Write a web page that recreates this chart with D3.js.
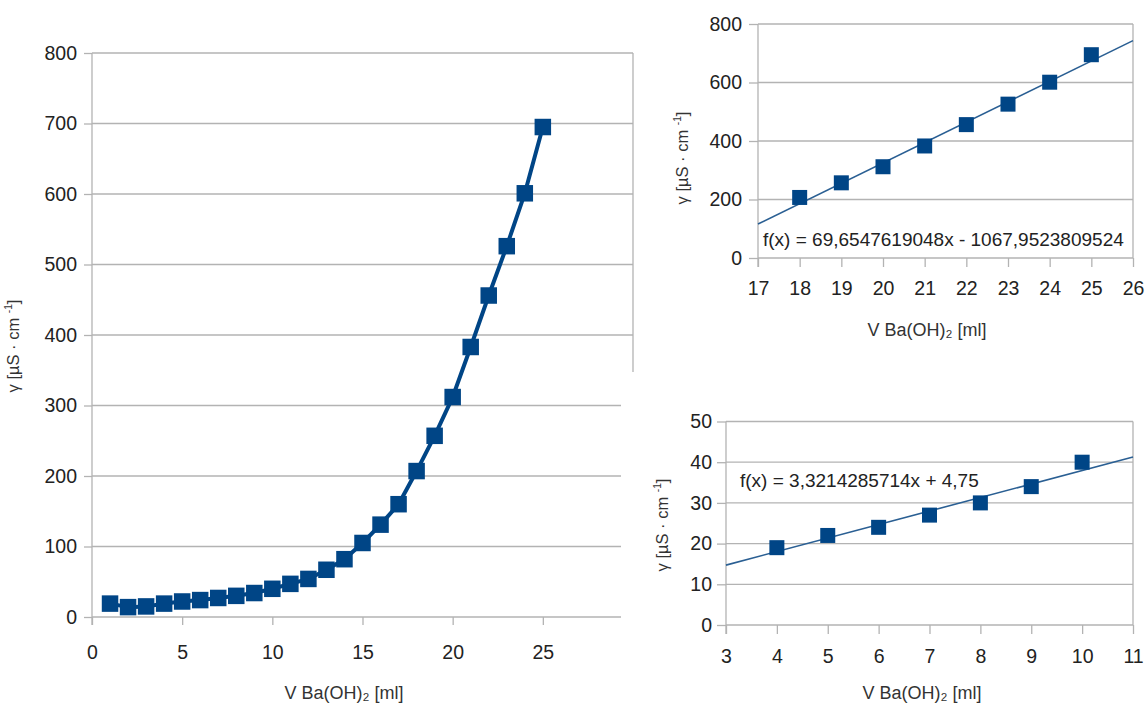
<!DOCTYPE html>
<html>
<head>
<meta charset="utf-8">
<script src="https://cdn.jsdelivr.net/npm/d3@7"></script>
<style>
  body { margin: 0; background: #fff; }
  svg { display: block; }
</style>
</head>
<body>
<svg id="chart" width="1146" height="704"></svg>
<script>
// Conductometric titration with Ba(OH)2: conductivity vs. added volume
const volume = [1, 2, 3, 4, 5, 6, 7, 8, 9, 10, 11, 12, 13, 14, 15, 16, 17, 18, 19, 20, 21, 22, 23, 24, 25];
const conductivity = [19, 14, 15, 19, 22, 24, 27, 30, 34, 40, 47, 54, 67, 82, 105, 131, 160, 207, 257, 312, 383, 456, 526, 601, 695];

// Steep branch used for the upper linear fit
const volumeHigh = [18, 19, 20, 21, 22, 23, 24, 25];
const conductivityHigh = [207, 257, 312, 383, 456, 526, 601, 695];

// Flat branch used for the lower linear fit
const volumeLow = [4, 5, 6, 7, 8, 9, 10];
const conductivityLow = [19, 22, 24, 27, 30, 34, 40];

// Tick values of each panel
const mainXTicks = [0, 5, 10, 15, 20, 25, 30];
const mainYTicks = [0, 100, 200, 300, 400, 500, 600, 700, 800];
const highXTicks = [17, 18, 19, 20, 21, 22, 23, 24, 25, 26];
const highYTicks = [0, 200, 400, 600, 800];
const lowXTicks = [3, 4, 5, 6, 7, 8, 9, 10, 11];
const lowYTicks = [0, 10, 20, 30, 40, 50];

const xTitle = "V Ba(OH)₂ [ml]";

const FONT = '"Liberation Sans", Arial, sans-serif';
const GRID = "#b3b3b3";
const BLUE = "#004586";
const TEXT = "#222";

const svg = d3.select("#chart");

// least-squares line through the points
function linearFit(xs, ys) {
  const mx = d3.mean(xs), my = d3.mean(ys);
  const sxy = d3.sum(xs, (v, i) => (v - mx) * (ys[i] - my));
  const sxx = d3.sum(xs, v => (v - mx) * (v - mx));
  const slope = sxy / sxx;
  return { slope, intercept: my - slope * mx };
}

// number with comma as decimal separator, up to 10 decimals
function fmt(v) {
  let s = Math.abs(v).toFixed(10).replace(/0+$/, "").replace(/\.$/, "");
  return s.replace(".", ",");
}

function yTitle(g, cx, cy, size) {
  const t = g.append("text")
    .attr("transform", `translate(${cx},${cy}) rotate(-90)`)
    .attr("text-anchor", "middle")
    .attr("dominant-baseline", "middle")
    .attr("font-family", FONT)
    .attr("font-size", size)
    .attr("fill", "#333");
  t.append("tspan").text("γ [µS  ·  cm  ");
  t.append("tspan").attr("font-size", size * 0.62).attr("dy", -size * 0.38).text("-1");
  t.append("tspan").attr("dy", size * 0.38).text("]");
}

function panel(o) {
  const g = svg.append("g");
  if (o.background) {
    g.append("rect")
      .attr("x", o.background[0]).attr("y", o.background[1])
      .attr("width", o.background[2]).attr("height", o.background[3])
      .attr("fill", "#fff");
  }
  const x = d3.scaleLinear().domain(o.xDomain).range([o.left, o.right]);
  const y = d3.scaleLinear().domain(o.yDomain).range([o.bottom, o.top]);

  // horizontal gridlines
  g.append("g").selectAll("line").data(o.yTicks).join("line")
    .attr("x1", o.left).attr("x2", o.right)
    .attr("y1", d => y(d)).attr("y2", d => y(d))
    .attr("stroke", GRID).attr("stroke-width", 1.3);
  // right border
  g.append("line")
    .attr("x1", o.right).attr("x2", o.right)
    .attr("y1", o.top).attr("y2", o.bottom)
    .attr("stroke", GRID).attr("stroke-width", 1.3);

  // axes
  const ya = g.append("g").attr("transform", `translate(${o.left},0)`)
    .call(d3.axisLeft(y).tickValues(o.yTicks).tickSize(o.tick).tickPadding(o.yPad));
  const xa = g.append("g").attr("transform", `translate(0,${o.bottom})`)
    .call(d3.axisBottom(x).tickValues(o.xTicks).tickSize(o.tick).tickPadding(o.xPad));
  [ya, xa].forEach(a => {
    a.select(".domain").remove();
    a.selectAll("line").attr("stroke", GRID).attr("stroke-width", 1.3);
    a.selectAll("text").attr("font-family", FONT).attr("font-size", 19.5).attr("fill", TEXT);
  });
  // vertical axis line, running down through the bottom tick
  g.append("line")
    .attr("x1", o.left).attr("x2", o.left)
    .attr("y1", o.top).attr("y2", o.bottom + o.tick)
    .attr("stroke", GRID).attr("stroke-width", 1.3);

  const plot = g.append("g");

  if (o.fit) {
    const f = linearFit(o.xs, o.ys);
    const [x0, x1] = o.xDomain;
    plot.append("line")
      .attr("x1", x(x0)).attr("y1", y(f.slope * x0 + f.intercept))
      .attr("x2", x(x1)).attr("y2", y(f.slope * x1 + f.intercept))
      .attr("stroke", "#2a5f93").attr("stroke-width", 1.6);
    const sign = f.intercept < 0 ? " - " : " + ";
    plot.append("text")
      .attr("x", o.fitLabel[0]).attr("y", o.fitLabel[1])
      .attr("font-family", FONT).attr("font-size", 19).attr("fill", TEXT)
      .text(`f(x) = ${fmt(f.slope)}x${sign}${fmt(f.intercept)}`);
  }

  if (o.connect) {
    plot.append("path")
      .datum(o.xs.map((v, i) => [v, o.ys[i]]))
      .attr("d", d3.line().x(d => x(d[0])).y(d => y(d[1])))
      .attr("fill", "none").attr("stroke", BLUE)
      .attr("stroke-width", o.lineWidth).attr("stroke-linejoin", "round");
  }

  const m = o.marker;
  plot.selectAll("rect.pt").data(o.xs.map((v, i) => [v, o.ys[i]])).join("rect")
    .attr("class", "pt")
    .attr("x", d => x(d[0]) - m / 2).attr("y", d => y(d[1]) - m / 2)
    .attr("width", m).attr("height", m)
    .attr("fill", BLUE);

  g.append("text")
    .attr("x", o.xTitle[0]).attr("y", o.xTitle[1])
    .attr("text-anchor", "middle")
    .attr("font-family", FONT).attr("font-size", 18).attr("fill", "#333")
    .text(xTitle);
  yTitle(g, o.yTitle[0], o.yTitle[1], 16.5);
}

// full titration curve
panel({
  xs: volume, ys: conductivity,
  xDomain: [0, 30], yDomain: [0, 800],
  xTicks: mainXTicks, yTicks: mainYTicks,
  left: 92, right: 633, top: 53, bottom: 617,
  tick: 8, yPad: 7, xPad: 20,
  connect: true, lineWidth: 4, marker: 16.5,
  xTitle: [344, 699], yTitle: [15, 346]
});

// lower fit panel (its frame sits over the corner of the main chart)
panel({
  background: [621, 372, 525, 332],
  xs: volumeLow, ys: conductivityLow,
  xDomain: [3, 11], yDomain: [0, 50],
  xTicks: lowXTicks, yTicks: lowYTicks,
  left: 726, right: 1133, top: 421.5, bottom: 625,
  tick: 9, yPad: 5, xPad: 15,
  fit: true, fitLabel: [740, 487], marker: 15,
  xTitle: [922, 699], yTitle: [664, 525]
});

// upper fit panel
panel({
  xs: volumeHigh, ys: conductivityHigh,
  xDomain: [17, 26], yDomain: [0, 800],
  xTicks: highXTicks, yTicks: highYTicks,
  left: 758, right: 1133, top: 24, bottom: 258,
  tick: 9, yPad: 7, xPad: 14,
  fit: true, fitLabel: [763, 246], marker: 15,
  xTitle: [927, 336], yTitle: [684, 158]
});
</script>
</body>
</html>
